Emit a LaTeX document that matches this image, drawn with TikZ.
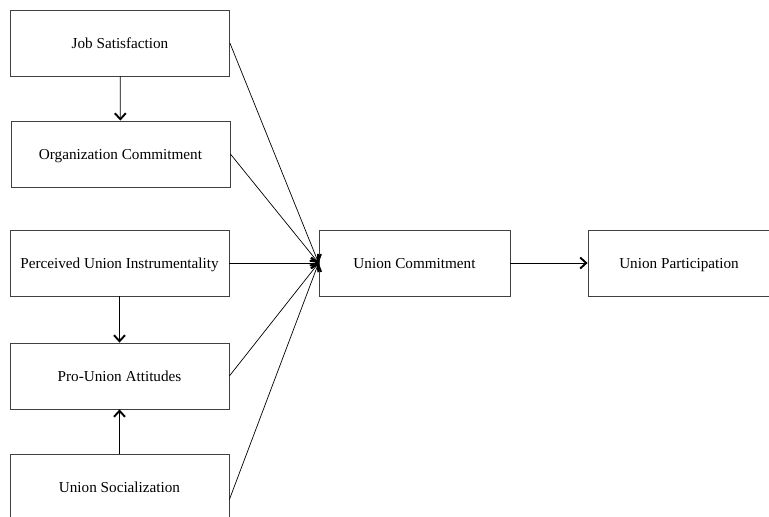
\documentclass[tikz,border=0pt]{standalone}
\usepackage{fontspec}
\setmainfont{Liberation Serif}
\usetikzlibrary{arrows.meta}

\tikzset{
  factor/.style={draw=black!75, line width=0.8pt, minimum width=219pt, minimum height=66pt, inner sep=0pt,
    text height=2.2ex, text depth=0pt, font=\fontsize{15.2}{18}\selectfont},
  link/.style={-{Straight Barb[length=6pt,width=11pt,line width=1.9pt]}, line width=0.7pt}
}

\begin{document}
\begin{tikzpicture}[x=1pt, y=-1pt]
    \clip (0,0) rectangle (769,517);

    \node[factor] (JS) at (120, 43) {Job Satisfaction};
    \node[factor] (OC) at (120.5, 154) {Organization Commitment};
    \node[factor] (PUI) at (119.5, 263) {Perceived Union Instrumentality};
    \node[factor] (PUA) at (119.5, 376) {Pro-Union Attitudes};
    \node[factor] (US) at (119.5, 487.5) {Union Socialization};
    \node[factor, minimum width=191pt] (UC) at (414.5, 263) {Union Commitment};
    \node[factor, minimum width=182pt] (UP) at (679, 263) {Union Participation};

    \draw[link] (JS) -- (OC);
    \draw[link] (PUI) -- (PUA);
    \draw[link] (US) -- (PUA);

    \draw[link] (JS.east) -- (UC.west);
    \draw[link] (OC.east) -- (UC.west);
    \draw[link] (PUI.east) -- (UC.west);
    \draw[link] (PUA.east) -- (UC.west);
    \draw[link] ([yshift=-12pt]US.east) -- (UC.west);

    \draw[link] (UC) -- (UP);

\end{tikzpicture}
\end{document}
